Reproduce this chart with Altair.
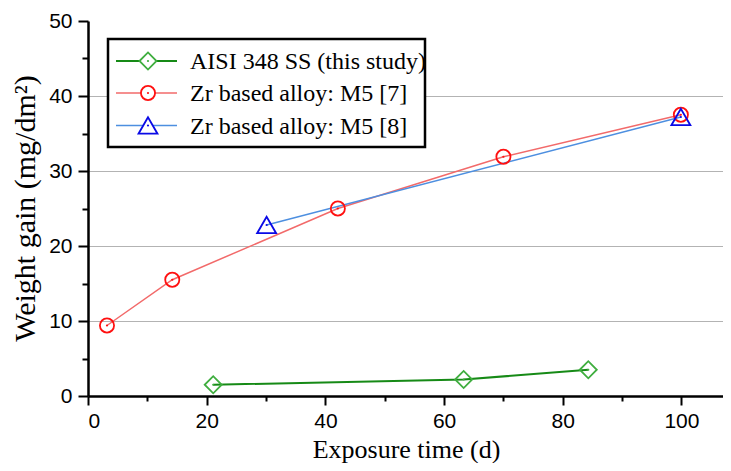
import altair as alt
import pandas as pd

# ---- data ----
series_names = ["AISI 348 SS (this study)", "Zr based alloy: M5 [7]", "Zr based alloy: M5 [8]"]
aisi_x = [21.1, 63.3, 84.3]
aisi_y = [1.5, 2.2, 3.5]
m5a_x = [3.2, 14.2, 42.1, 70.0, 99.9]
m5a_y = [9.4, 15.5, 25.0, 31.9, 37.5]
m5b_x = [30.1, 99.9]
m5b_y = [22.8, 37.2]
x_ticks = [0, 10, 20, 30, 40, 50, 60, 70, 80, 90, 100]
y_ticks = [0, 5, 10, 15, 20, 25, 30, 35, 40, 45, 50]

xs = [aisi_x, m5a_x, m5b_x]
ys = [aisi_y, m5a_y, m5b_y]

# ---- styles ----
styles = [
    dict(line="#168a16", lw=2.0, marker="#3fae3f", shape="diamond", size=290),
    dict(line="#f26a6a", lw=1.5, marker="#ff1010", shape="circle", size=200),
    dict(line="#4d8fe0", lw=1.5, marker="#0a0ae6", shape="triangle-up", size=360),
]

x_scale = alt.Scale(domain=[0, 107], nice=False, zero=False)
y_scale = alt.Scale(domain=[0, 50], nice=False, zero=False)

x_axis = alt.Axis(
    values=x_ticks,
    labelExpr="datum.value % 20 === 0 ? datum.label : ''",
    tickSize={"condition": {"test": "datum.value % 20 === 0", "value": 9}, "value": 5},
    labelPadding=5,
    grid=False,
    title="Exposure time (d)",
    titleFontSize=26,
    titleX=318,
    titleY=61,
    titleAlign="center",
    titleBaseline="alphabetic",
    labelOverlap=False,
)
y_axis = alt.Axis(
    values=y_ticks,
    labelExpr="datum.value % 10 === 0 ? datum.label : ''",
    tickSize={"condition": {"test": "datum.value % 10 === 0", "value": 10}, "value": 6},
    labelPadding=6,
    grid=True,
    gridOpacity={"condition": {"test": "datum.value % 10 === 0 && datum.value > 0 && datum.value < 50", "value": 1}, "value": 0},
    title="Weight gain (mg/dm²)",
    titleFontSize=30,
    titleAngle=270,
    titleX=-54,
    titleY=187,
    titleAlign="center",
    titleBaseline="alphabetic",
    labelOverlap=False,
)


def X():
    return alt.X("x:Q", scale=x_scale, axis=x_axis)


def Y():
    return alt.Y("y:Q", scale=y_scale, axis=y_axis)


layers = []
for name, sx, sy, st in zip(series_names, xs, ys, styles):
    df = pd.DataFrame({"x": sx, "y": sy, "series": name})
    base = alt.Chart(df)
    layers.append(base.mark_line(color=st["line"], strokeWidth=st["lw"]).encode(x=X(), y=Y()))
for name, sx, sy, st in zip(series_names, xs, ys, styles):
    df = pd.DataFrame({"x": sx, "y": sy, "series": name})
    base = alt.Chart(df)
    layers.append(base.mark_point(shape=st["shape"], size=st["size"], filled=False,
                                  color=st["marker"], strokeWidth=1.8, opacity=1).encode(x=X(), y=Y()))
    layers.append(base.mark_point(shape="circle", size=5, filled=True,
                                  color=st["marker"], opacity=1).encode(x=X(), y=Y()))

# ---- legend (decoration) ----
one = pd.DataFrame({"k": [0]})
layers.append(alt.Chart(one).mark_rect(fill="white", stroke="black", strokeWidth=2.5).encode(
    x=alt.value(20), x2=alt.value(337), y=alt.value(18), y2=alt.value(126)))
row_y = [40, 72, 104.5]
for name, st, ry in zip(series_names, styles, row_y):
    c = alt.Chart(one)
    layers.append(c.mark_rule(color=st["line"], strokeWidth=st["lw"]).encode(
        x=alt.value(28), x2=alt.value(89), y=alt.value(ry)))
    layers.append(c.mark_point(shape=st["shape"], size=st["size"], filled=True, fill="white",
                               stroke=st["marker"], strokeWidth=1.8, opacity=1).encode(
        x=alt.value(60), y=alt.value(ry)))
    layers.append(c.mark_point(shape="circle", size=5, filled=True, color=st["marker"], opacity=1).encode(
        x=alt.value(60), y=alt.value(ry)))
    layers.append(c.mark_text(align="left", baseline="alphabetic", font="Liberation Serif",
                              fontSize=24, color="black").encode(
        x=alt.value(102), y=alt.value(ry + 8), text=alt.value(name)))

chart = alt.layer(*layers).properties(
    width=635,
    height=375,
    autosize=alt.AutoSizeParams(type="none"),
    padding={"left": 80, "top": 13, "right": 0, "bottom": 67},
).configure_view(stroke="transparent").configure_axis(
    domainColor="black",
    domainWidth=2.5,
    tickColor="black",
    tickWidth=2,
    labelFont="Liberation Sans",
    labelFontSize=21,
    labelColor="black",
    titleFont="Liberation Serif",
    titleFontWeight="normal",
    titleColor="black",
    gridColor="#b3b3b3",
    gridWidth=1,
)

chart.save("out.html", embed_options={"renderer": "svg", "actions": False})
